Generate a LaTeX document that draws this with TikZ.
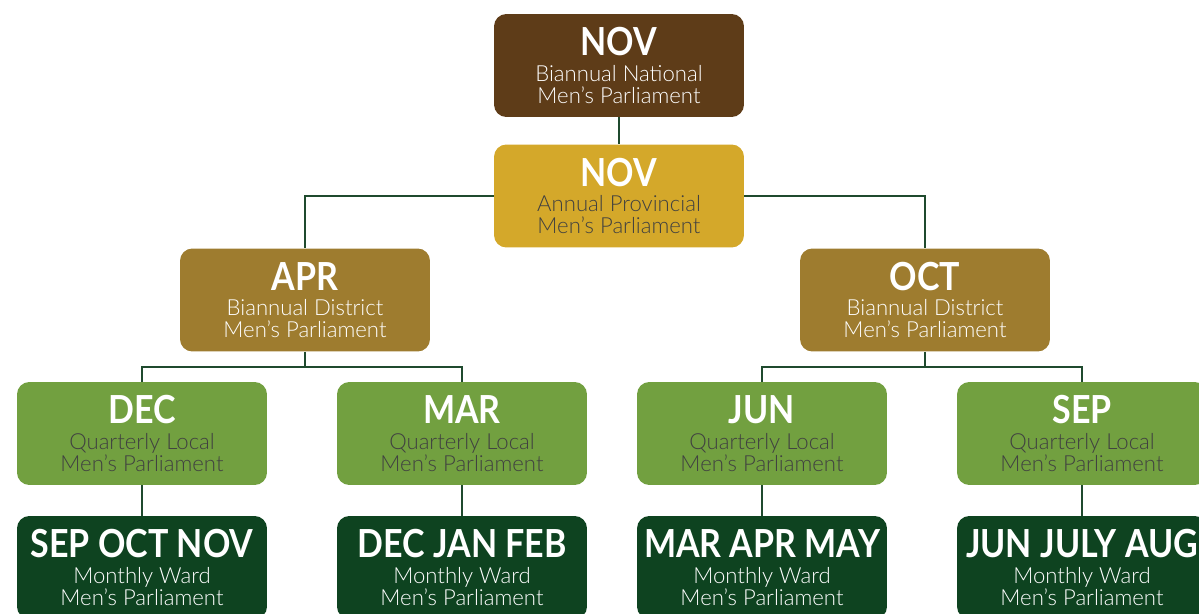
\documentclass[tikz,border=0pt]{standalone}
\usepackage{fontspec}
\setmainfont{Lato}
\newfontfamily\lightfont{Lato Light}
\usepackage{graphicx}
\usepackage{tikz}
\usetikzlibrary{positioning,calc}

\definecolor{natbrown}{HTML}{5E3C18}
\definecolor{provgold}{HTML}{D4A82A}
\definecolor{distbrown}{HTML}{9E7C2F}
\definecolor{localgreen}{HTML}{72A040}
\definecolor{warddark}{HTML}{0E4320}
\definecolor{linegreen}{HTML}{1F4A2E}
\definecolor{subgrey}{HTML}{404040}

\newcommand{\boxtitle}[1]{\scalebox{0.88}[1]{\color{white}\fontsize{22}{22}\rmfamily\bfseries #1}}

\begin{document}
\begin{tikzpicture}[x=0.02cm, y=-0.02cm,
    tierbox/.style={rounded corners=7pt, minimum width=5cm, minimum height=2.06cm, align=center, inner sep=2pt, text=white, font=\lightfont\fontsize{12.6}{12.5}\selectfont},
    natbox/.style={tierbox, fill=natbrown},
    provbox/.style={tierbox, fill=provgold, text=subgrey},
    distbox/.style={tierbox, fill=distbrown},
    localbox/.style={tierbox, fill=localgreen, text=subgrey},
    wardbox/.style={tierbox, fill=warddark},
    link/.style={draw=linegreen, line width=1.2pt}
]
\useasboundingbox (0,0) rectangle (1199,614);
\clip (0,0) rectangle (1199,614);

\node[natbox] (nat) at (619,65.5) {\boxtitle{NOV}\\[2pt]Biannual National\\Men’s Parliament};
\node[provbox] (prov) at (619,196) {\boxtitle{NOV}\\[2pt]Annual Provincial\\Men’s Parliament};
\node[distbox] (apr) at (305,300) {\boxtitle{APR}\\[2pt]Biannual District\\Men’s Parliament};
\node[distbox] (oct) at (925,300) {\boxtitle{OCT}\\[2pt]Biannual District\\Men’s Parliament};
\node[localbox] (dec) at (142,433.5) {\boxtitle{DEC}\\[2pt]Quarterly Local\\Men’s Parliament};
\node[localbox] (mar) at (462,433.5) {\boxtitle{MAR}\\[2pt]Quarterly Local\\Men’s Parliament};
\node[localbox] (jun) at (762,433.5) {\boxtitle{JUN}\\[2pt]Quarterly Local\\Men’s Parliament};
\node[localbox] (sep) at (1082,433.5) {\boxtitle{SEP}\\[2pt]Quarterly Local\\Men’s Parliament};
\node[wardbox] (w1) at (142,567.5) {\boxtitle{SEP OCT NOV}\\[2pt]Monthly Ward\\Men’s Parliament};
\node[wardbox] (w2) at (462,567.5) {\boxtitle{DEC JAN FEB}\\[2pt]Monthly Ward\\Men’s Parliament};
\node[wardbox] (w3) at (762,567.5) {\boxtitle{MAR APR MAY}\\[2pt]Monthly Ward\\Men’s Parliament};
\node[wardbox] (w4) at (1082,567.5) {\boxtitle{JUN JULY AUG}\\[2pt]Monthly Ward\\Men’s Parliament};

\draw[link] (nat) -- (prov);
\draw[link] (prov.west) -| (apr.north);
\draw[link] (prov.east) -| (oct.north);
\draw[link] (apr.south) -- ++(0,15) -| (dec.north);
\draw[link] (apr.south) -- ++(0,15) -| (mar.north);
\draw[link] (oct.south) -- ++(0,15) -| (jun.north);
\draw[link] (oct.south) -- ++(0,15) -| (sep.north);
\draw[link] (dec) -- (w1);
\draw[link] (mar) -- (w2);
\draw[link] (jun) -- (w3);
\draw[link] (sep) -- (w4);
\end{tikzpicture}
\end{document}
